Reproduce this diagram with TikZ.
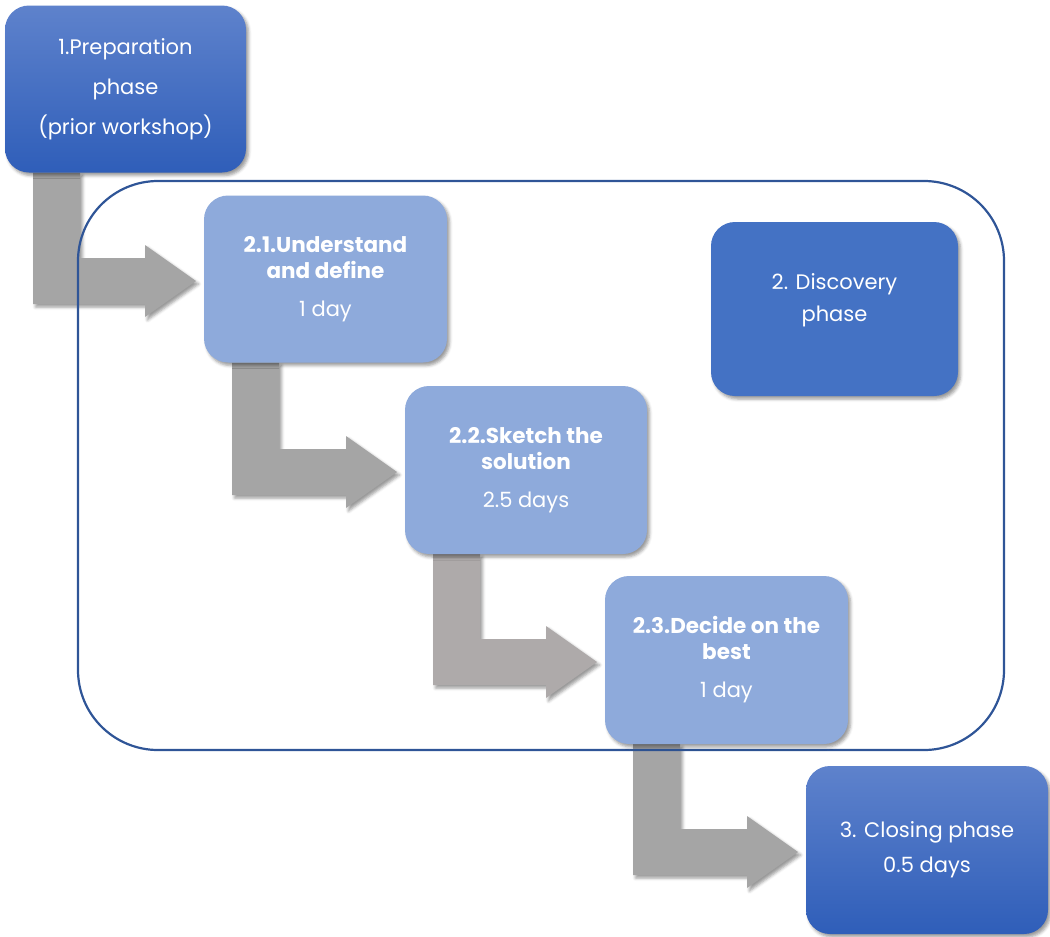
\documentclass[tikz,border=0pt]{standalone}
\usepackage{fontspec}
\setmainfont{Poppins}
\usetikzlibrary{calc,shadows.blur}
\definecolor{darktop}{HTML}{5E82CC}
\definecolor{darkbot}{HTML}{2F5EB9}
\definecolor{lightfill}{HTML}{8EAADB}
\definecolor{discfill}{HTML}{4472C4}
\definecolor{contline}{HTML}{2F5597}
\definecolor{arrgray}{HTML}{A5A5A5}
\definecolor{arrwarm}{HTML}{AEAAAA}
\pgfdeclarelayer{back}
\pgfsetlayers{back,main}
\tikzset{
  softshadow/.style={blur shadow={shadow xshift=2.5pt, shadow yshift=-3pt, shadow blur radius=3pt, shadow opacity=40}},
  card/.style={rectangle, rounded corners=24pt, inner sep=0pt, outer sep=0pt, text=white, align=center, softshadow},
  darkcard/.style={card, top color=darktop, bottom color=darkbot},
  lightcard/.style={card, fill=lightfill},
  bigtxt/.style={font=\fontsize{21}{#1}\selectfont},
  boldtxt/.style={font=\fontsize{21.5}{26}\selectfont\bfseries},
  container/.style={rectangle, draw=contline, line width=2.2pt, rounded corners=80pt, inner sep=0pt, outer sep=0pt},
}
\newcommand\bentarrow[3]{%
  \fill[#3, softshadow]
    ($(#1.south west)+(28,0)$) -- ($(#1.south west)+(75,0)$)
    |- ($(#2.west)+(-59,-21)$) -- ($(#2.west)+(-59,-34)$)
    -- ($(#2.west)+(-8,2)$) -- ($(#2.west)+(-59,38)$)
    -- ($(#2.west)+(-59,25)$) -| ($(#1.south west)+(28,0)$) -- cycle;}
\newcommand\reg{\fontsize{21}{26}\selectfont\mdseries}
\begin{document}
\begin{tikzpicture}[x=1pt,y=-1pt]
\useasboundingbox (0,0) rectangle (1050,937);

\node[container, minimum width=926pt, minimum height=569pt] (area) at (541,465.5) {};

\node[darkcard, minimum width=241pt, minimum height=167pt, bigtxt=40] (prep) at (125.5,89)
  {1.Preparation\\phase\\(prior workshop)};
\node[lightcard, minimum width=243pt, minimum height=167pt, boldtxt] (u21) at (325.5,279)
  {2.1.Understand\\and define\\[12pt]\reg 1 day};
\node[card, fill=discfill, minimum width=247pt, minimum height=174pt] (disc) at (834.5,309) {};
\node[text=white, align=center, bigtxt=32, inner sep=0pt] (disct) at ($(disc.center)+(0,-9)$)
  {2. Discovery\\phase};
\node[lightcard, minimum width=242pt, minimum height=168pt, boldtxt] (u22) at (526,470)
  {2.2.Sketch the\\solution\\[12pt]\reg 2.5 days};
\node[lightcard, minimum width=243pt, minimum height=168pt, boldtxt] (u23) at (726.5,660)
  {2.3.Decide on the\\best\\[12pt]\reg 1 day};
\node[darkcard, minimum width=242pt, minimum height=168pt, bigtxt=35] (close) at (927,850)
  {3. Closing phase\\0.5 days};

\begin{pgfonlayer}{back}
\bentarrow{prep}{u21}{arrgray}
\bentarrow{u21}{u22}{arrgray}
\bentarrow{u22}{u23}{arrwarm}
\bentarrow{u23}{close}{arrgray}
\end{pgfonlayer}
\end{tikzpicture}
\end{document}
